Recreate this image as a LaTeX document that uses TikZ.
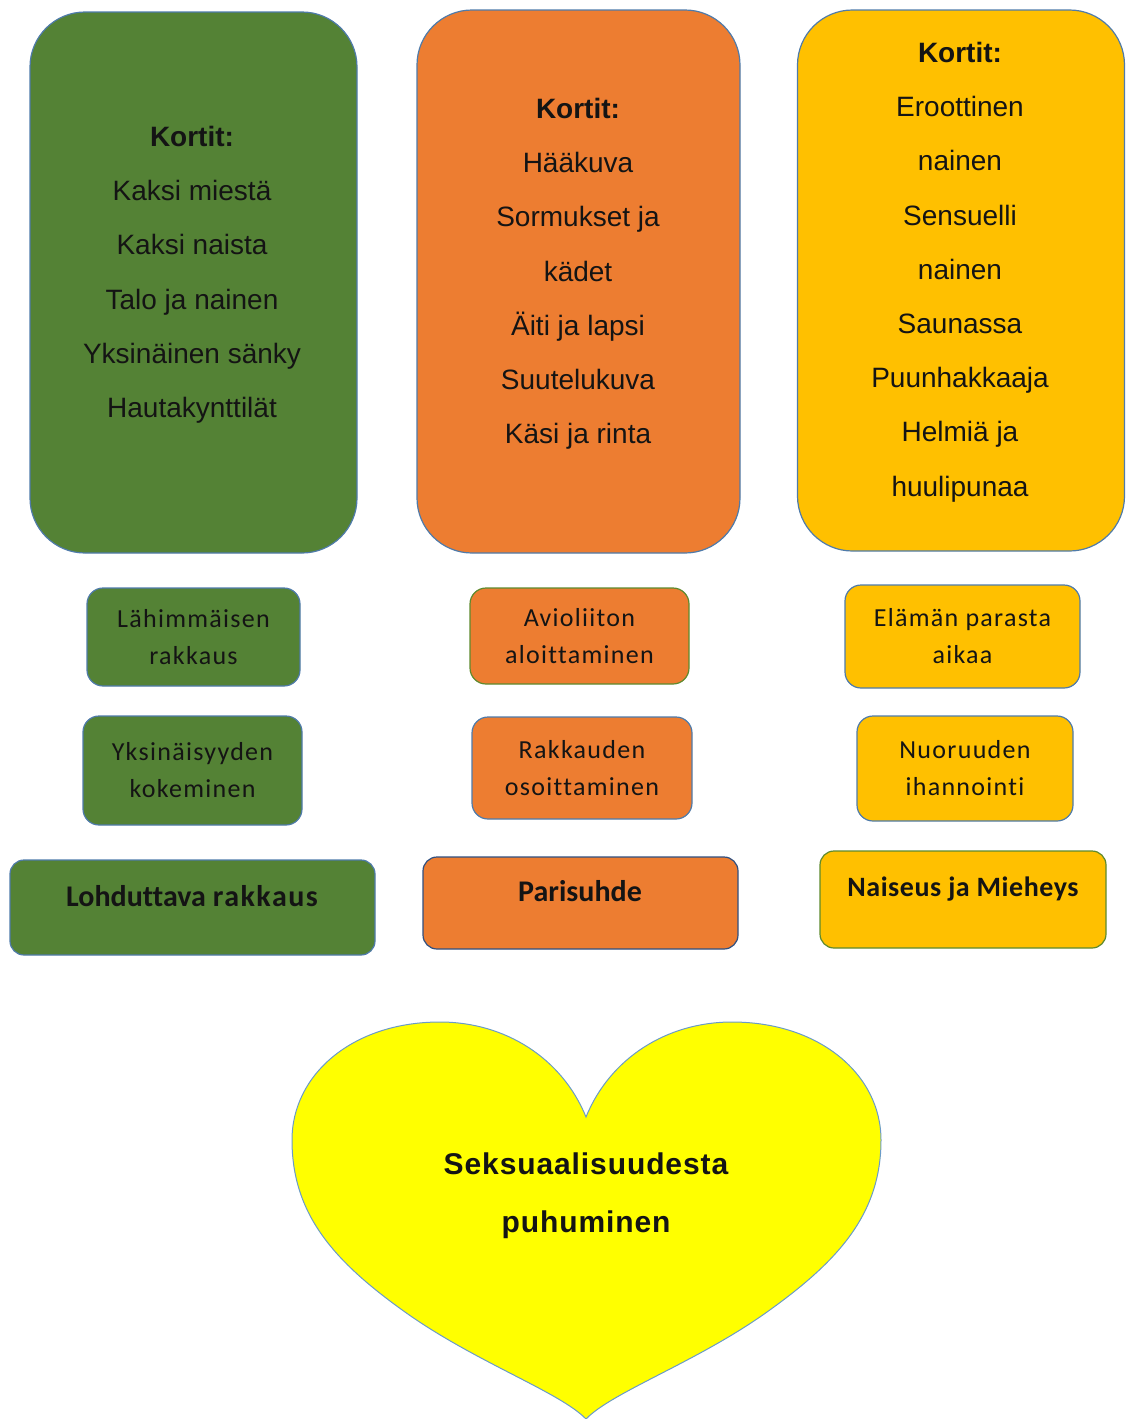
\documentclass[tikz,border=0pt]{standalone}
\usepackage{fontspec}
\setmainfont{Liberation Sans}
\newfontfamily\calfont{Carlito}[LetterSpace=5,Ligatures=NoCommon]
\newfontfamily\calplain{Carlito}[Ligatures=NoCommon]
\newfontfamily\calwide{Carlito}[LetterSpace=2,Ligatures=NoCommon]
\newfontfamily\heartfont{Liberation Sans}[LetterSpace=3]
\definecolor{cgreen}{HTML}{548235}
\definecolor{corange}{HTML}{ED7D31}
\definecolor{cyellow}{HTML}{FFC000}
\definecolor{cheart}{HTML}{FFFF00}
\definecolor{cborder}{HTML}{4F7BAA}
\definecolor{cgborder}{HTML}{5E8A2E}
\definecolor{cdborder}{HTML}{2F4F80}
\definecolor{hborder}{HTML}{6A9BC8}
\definecolor{ink}{HTML}{141414}
\tikzset{
  bigbox/.style={draw=cborder, line width=1.2pt, rounded corners=55pt, inner sep=0pt},
  smallbox/.style={draw=cborder, line width=1.2pt, rounded corners=16pt, inner sep=0pt,
    align=center, text=ink, font=\calfont\fontsize{26}{37}\selectfont},
  titlebox/.style={draw=cborder, line width=1.2pt, rounded corners=14pt, inner sep=0pt},
  cardtext/.style={anchor=north, align=center, inner sep=0pt, text=ink,
    font=\fontsize{28}{54.2}\selectfont},
  titletext/.style={inner sep=0pt, text=ink, font=\calplain\bfseries\fontsize{30}{36}\selectfont},
  hearttext/.style={anchor=north, align=center, inner sep=0pt, text=ink,
    font=\heartfont\bfseries\fontsize{30}{58}\selectfont}
}
\begin{document}
\begin{tikzpicture}[x=1pt,y=-1pt]
\useasboundingbox (0,0) rectangle (1126,1419);

% big card boxes
\node[bigbox, fill=cgreen, minimum width=327pt, minimum height=541pt] (bg) at (193.5,282.5) {};
\node[bigbox, fill=corange, minimum width=323pt, minimum height=543pt] (bo) at (578.5,281.5) {};
\node[bigbox, fill=cyellow, minimum width=327pt, minimum height=541pt] (by) at (961,280.5) {};

\node[cardtext] (tg) at (192,126) {\textbf{Kortit:}\\Kaksi miestä\\Kaksi naista\\Talo ja nainen\\Yksinäinen sänky\\Hautakynttilät};
\node[cardtext] (to) at (578,98) {\textbf{Kortit:}\\Hääkuva\\Sormukset ja\\kädet\\Äiti ja lapsi\\Suutelukuva\\Käsi ja rinta};
\node[cardtext] (ty) at (960,42) {\textbf{Kortit:}\\Eroottinen\\nainen\\Sensuelli\\nainen\\Saunassa\\Puunhakkaaja\\Helmiä ja\\huulipunaa};

% small boxes
\node[smallbox, fill=cgreen, minimum width=213pt, minimum height=98pt] (g1) at (193.5,637) {Lähimmäisen\\rakkaus};
\node[smallbox, fill=cgreen, minimum width=219pt, minimum height=109pt] (g2) at (192.5,770.5) {Yksinäisyyden\\kokeminen};
\node[smallbox, fill=corange, draw=cgborder, minimum width=219pt, minimum height=96pt] (o1) at (579.5,636) {Avioliiton\\aloittaminen};
\node[smallbox, fill=corange, minimum width=220pt, minimum height=102pt] (o2) at (582,768) {Rakkauden\\osoittaminen};
\node[smallbox, fill=cyellow, minimum width=235pt, minimum height=103pt] (y1) at (962.5,636.5) {Elämän parasta\\aikaa};
\node[smallbox, fill=cyellow, minimum width=216pt, minimum height=105pt] (y2) at (965,768.5) {Nuoruuden\\ihannointi};

% title boxes
\node[titlebox, fill=cgreen, minimum width=365pt, minimum height=95pt] (g3) at (192.5,907.5) {};
\node[titlebox, fill=corange, draw=cdborder, minimum width=315pt, minimum height=92pt] (o3) at (580.5,903) {};
\node[titlebox, fill=cyellow, draw=cgborder, minimum width=286pt, minimum height=97pt] (y3) at (963,899.5) {};
\node[titletext] (g3t) at (192,896) {Lohduttava {\calfont\bfseries rakkaus}};
\node[titletext] (o3t) at (580,891) {Parisuhde};
\node[titletext, font=\calwide\bfseries\fontsize{28}{34}\selectfont] (y3t) at (963,889) {Naiseus ja Mieheys};

% heart
\draw[fill=cheart, draw=hborder, line width=1pt]
  (586,1117) .. controls (562,1058) and (505,1022) .. (440,1022)
  .. controls (352,1022) and (292,1075) .. (292,1140)
  .. controls (292,1215) and (335,1262) .. (405,1312)
  .. controls (475,1362) and (560,1392) .. (586,1419)
  .. controls (612,1392) and (697,1362) .. (767,1312)
  .. controls (837,1262) and (881,1215) .. (881,1140)
  .. controls (881,1075) and (820,1022) .. (732,1022)
  .. controls (667,1022) and (610,1058) .. (586,1117) -- cycle;
\node[hearttext] (ht) at (586,1153) {Seksuaalisuudesta\\puhuminen};
\end{tikzpicture}
\end{document}
